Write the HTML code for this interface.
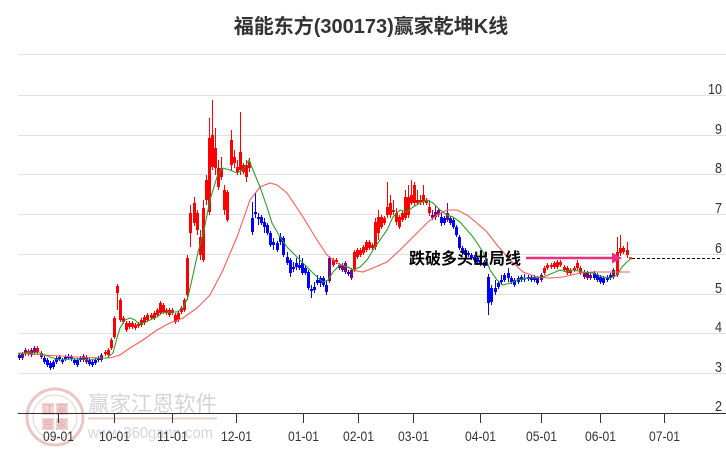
<!DOCTYPE html>
<html><head><meta charset="utf-8">
<style>
html,body{margin:0;padding:0;background:#fff;}
svg{display:block}
</style></head>
<body>
<svg width="726" height="450" viewBox="0 0 726 450" xmlns="http://www.w3.org/2000/svg">
<rect width="726" height="450" fill="#fff"/>

<!-- watermark -->
<g>
  <circle cx="55" cy="417" r="28" fill="none" stroke="#ecc6c6" stroke-width="3"/>
  <circle cx="55" cy="417" r="22" fill="none" stroke="#f0d2d2" stroke-width="1"/>
  <rect x="42" y="403" width="12" height="12" fill="#f2d4d4"/>
  <rect x="56" y="403" width="12" height="12" fill="#f2d4d4"/>
  <rect x="42" y="418" width="12" height="12" fill="#f2d4d4"/>
  <rect x="56" y="418" width="12" height="12" fill="#f2d4d4"/>
  <g font-family="'Liberation Sans','Noto Sans CJK SC',sans-serif" font-size="11" fill="#e4a8a8" text-anchor="middle">
    <text x="48" y="413">江</text><text x="62" y="413">赢</text>
    <text x="48" y="428">恩</text><text x="62" y="428">家</text>
  </g>
  <text x="88" y="411" font-family="'Liberation Sans','Noto Sans CJK SC',sans-serif" font-size="21" fill="#d4d4d4" textLength="129" lengthAdjust="spacingAndGlyphs">赢家江恩软件</text>
  <line x1="88" y1="418.5" x2="217" y2="418.5" stroke="#e6d0d0" stroke-width="2"/>
  <text x="88" y="438" font-family="'Liberation Sans',sans-serif" font-size="16" fill="#d6d6d6" textLength="125" lengthAdjust="spacingAndGlyphs">www.360gann.com</text>
</g>

<!-- title -->
<text x="371" y="33" text-anchor="middle" font-family="'Liberation Sans','Noto Sans CJK SC',sans-serif" font-weight="bold" font-size="20" fill="#333">福能东方(300173)赢家乾坤K线</text>

<!-- grid -->
<g stroke="#e2e2e2" stroke-width="1">
  <line x1="18" y1="54.5" x2="726" y2="54.5"/>
  <line x1="18" y1="95.5" x2="726" y2="95.5"/>
  <line x1="18" y1="135.5" x2="726" y2="135.5"/>
  <line x1="18" y1="174.5" x2="726" y2="174.5"/>
  <line x1="18" y1="214.5" x2="726" y2="214.5"/>
  <line x1="18" y1="254.5" x2="726" y2="254.5"/>
  <line x1="18" y1="294.5" x2="726" y2="294.5"/>
  <line x1="18" y1="333.5" x2="726" y2="333.5"/>
  <line x1="18" y1="373.5" x2="726" y2="373.5"/>
</g>

<!-- y labels -->
<g font-family="'Liberation Sans',sans-serif" font-size="15" fill="#333" text-anchor="end">
  <text x="722" y="94" textLength="14" lengthAdjust="spacingAndGlyphs">10</text>
  <text x="722" y="134" textLength="7" lengthAdjust="spacingAndGlyphs">9</text>
  <text x="722" y="173" textLength="7" lengthAdjust="spacingAndGlyphs">8</text>
  <text x="722" y="213" textLength="7" lengthAdjust="spacingAndGlyphs">7</text>
  <text x="722" y="253" textLength="7" lengthAdjust="spacingAndGlyphs">6</text>
  <text x="722" y="293" textLength="7" lengthAdjust="spacingAndGlyphs">5</text>
  <text x="722" y="332" textLength="7" lengthAdjust="spacingAndGlyphs">4</text>
  <text x="722" y="372" textLength="7" lengthAdjust="spacingAndGlyphs">3</text>
  <text x="722" y="411" textLength="7" lengthAdjust="spacingAndGlyphs">2</text>
</g>

<!-- axis -->
<line x1="18" y1="413.5" x2="726" y2="413.5" stroke="#333" stroke-width="1"/>
<g stroke="#333" stroke-width="1">
  <line x1="58.5" y1="413" x2="58.5" y2="423"/>
  <line x1="114.5" y1="413" x2="114.5" y2="423"/>
  <line x1="172.5" y1="413" x2="172.5" y2="423"/>
  <line x1="236.5" y1="413" x2="236.5" y2="423"/>
  <line x1="303.5" y1="413" x2="303.5" y2="423"/>
  <line x1="358.5" y1="413" x2="358.5" y2="423"/>
  <line x1="413.5" y1="413" x2="413.5" y2="423"/>
  <line x1="480.5" y1="413" x2="480.5" y2="423"/>
  <line x1="541.5" y1="413" x2="541.5" y2="423"/>
  <line x1="600.5" y1="413" x2="600.5" y2="423"/>
  <line x1="664.5" y1="413" x2="664.5" y2="423"/>
</g>
<g font-family="'Liberation Sans',sans-serif" font-size="14" fill="#333" text-anchor="middle">
  <text x="58.5" y="441" textLength="31" lengthAdjust="spacingAndGlyphs">09-01</text>
  <text x="114.5" y="441" textLength="31" lengthAdjust="spacingAndGlyphs">10-01</text>
  <text x="172.5" y="441" textLength="31" lengthAdjust="spacingAndGlyphs">11-01</text>
  <text x="236.5" y="441" textLength="31" lengthAdjust="spacingAndGlyphs">12-01</text>
  <text x="303.5" y="441" textLength="31" lengthAdjust="spacingAndGlyphs">01-01</text>
  <text x="358.5" y="441" textLength="31" lengthAdjust="spacingAndGlyphs">02-01</text>
  <text x="413.5" y="441" textLength="31" lengthAdjust="spacingAndGlyphs">03-01</text>
  <text x="480.5" y="441" textLength="31" lengthAdjust="spacingAndGlyphs">04-01</text>
  <text x="541.5" y="441" textLength="31" lengthAdjust="spacingAndGlyphs">05-01</text>
  <text x="600.5" y="441" textLength="31" lengthAdjust="spacingAndGlyphs">06-01</text>
  <text x="664.5" y="441" textLength="31" lengthAdjust="spacingAndGlyphs">07-01</text>
</g>

<!-- candles: red -->
<path fill="none" stroke="#ff0000" stroke-width="1" d="M28.5 349V356M37.5 346V354M105.5 350V356M108.5 348V357M111.5 338V350M114.5 316V339M117.5 284V310M120.5 298V322M123.5 316V324M126.5 321V332M129.5 321V329M132.5 321V329M135.5 323V330M138.5 322V328M141.5 318V327M144.5 315V325M147.5 313V322M151.5 313V320M154.5 311V320M157.5 308V317M160.5 301V315M163.5 303V314M166.5 308V315M169.5 308V317M172.5 308V315M175.5 313V324M178.5 311V322M181.5 306V314M184.5 298V312M187.5 255V300M190.5 205V247M194.5 197V226M197.5 210V235M200.5 230V260M203.5 200V262M206.5 175V205M209.5 118V215M212.5 100V170M215.5 128V175M218.5 160V190M221.5 157V180M224.5 185V215M227.5 190V222M231.5 130V170M234.5 150V168M237.5 160V175M240.5 112V175M243.5 163V174M246.5 160V182M249.5 158V172M333.5 258V267M336.5 258V264M354.5 250V272M357.5 248V259M360.5 248V257M363.5 245V255M366.5 240V252M369.5 240V250M372.5 243V250M375.5 218V250M378.5 210V240M381.5 215V229M384.5 216V225M387.5 182V218M390.5 195V218M393.5 200V215M396.5 208V225M399.5 215V229M402.5 211V222M405.5 190V220M408.5 185V218M411.5 180V205M414.5 182V206M417.5 190V205M420.5 195V205M423.5 185V205M426.5 198V205M429.5 200V216M544.5 266V275M547.5 263V270M551.5 263V269M554.5 261V269M557.5 260V269M560.5 260V267M564.5 265V272M567.5 266V275M570.5 268V275M574.5 266V272M577.5 260V270M580.5 266V275M617.5 237V277M620.5 235V256M623.5 246V254M627.5 242V258"/>
<path fill="#ff0000" d="M27 351h3v3h-3zM36 348h3v4h-3zM104 352h3v2h-3zM107 350h3v5h-3zM110 340h3v8h-3zM113 318h3v19h-3zM116 286h3v7h-3zM119 300h3v20h-3zM122 318h3v4h-3zM125 323h3v7h-3zM128 323h3v4h-3zM131 323h3v4h-3zM134 325h3v3h-3zM137 324h3v2h-3zM140 320h3v5h-3zM143 317h3v6h-3zM146 315h3v5h-3zM150 315h3v3h-3zM153 313h3v5h-3zM156 310h3v5h-3zM159 303h3v10h-3zM162 305h3v7h-3zM165 310h3v3h-3zM168 310h3v5h-3zM171 310h3v3h-3zM174 315h3v7h-3zM177 313h3v7h-3zM180 308h3v4h-3zM183 300h3v10h-3zM186 258h3v37h-3zM189 213h3v20h-3zM193 203h3v20h-3zM196 213h3v17h-3zM199 237h3v18h-3zM202 208h3v52h-3zM205 180h3v20h-3zM208 138h3v74h-3zM211 135h3v32h-3zM214 148h3v20h-3zM217 168h3v19h-3zM220 168h3v9h-3zM223 190h3v20h-3zM226 192h3v28h-3zM230 140h3v25h-3zM233 157h3v6h-3zM236 167h3v5h-3zM239 152h3v18h-3zM242 165h3v7h-3zM245 165h3v12h-3zM248 162h3v6h-3zM332 260h3v5h-3zM335 260h3v2h-3zM353 252h3v18h-3zM356 250h3v7h-3zM359 250h3v5h-3zM362 247h3v6h-3zM365 242h3v8h-3zM368 242h3v6h-3zM371 245h3v3h-3zM374 222h3v25h-3zM377 217h3v16h-3zM380 217h3v10h-3zM383 218h3v5h-3zM386 207h3v8h-3zM389 203h3v12h-3zM392 210h3v2h-3zM395 213h3v9h-3zM398 217h3v10h-3zM401 213h3v7h-3zM404 197h3v21h-3zM407 197h3v18h-3zM410 195h3v8h-3zM413 185h3v18h-3zM416 200h3v3h-3zM419 200h3v2h-3zM422 195h3v7h-3zM425 200h3v3h-3zM428 207h3v6h-3zM543 268h3v5h-3zM546 265h3v3h-3zM550 265h3v2h-3zM553 263h3v4h-3zM556 262h3v5h-3zM559 262h3v3h-3zM563 267h3v3h-3zM566 268h3v5h-3zM569 270h3v3h-3zM573 268h3v2h-3zM576 263h3v5h-3zM579 268h3v5h-3zM616 252h3v23h-3zM619 248h3v5h-3zM622 248h3v4h-3zM626 250h3v5h-3z"/>

<!-- candles: blue -->
<path fill="none" stroke="#0000ff" stroke-width="1" d="M19.5 353V360M44.5 356V364M47.5 358V367M50.5 361V370M53.5 360V369M56.5 356V364M59.5 355V361M62.5 358V364M65.5 355V361M68.5 354V360M71.5 355V361M74.5 358V365M77.5 358V367M80.5 356V362M89.5 358V366M92.5 360V367M95.5 358V365M98.5 356V362M252.5 202V235M255.5 193V218M258.5 213V225M261.5 215V225M264.5 218V233M267.5 223V235M270.5 231V247M273.5 238V250M277.5 241V252M280.5 233V245M283.5 236V257M287.5 252V265M290.5 258V277M293.5 262V272M296.5 258V270M299.5 255V270M302.5 258V275M305.5 266V275M308.5 270V290M311.5 285V298M314.5 282V293M317.5 275V285M320.5 276V287M323.5 276V287M326.5 280V295M348.5 270V276M441.5 212V226M444.5 216V225M450.5 216V225M453.5 218V229M456.5 225V237M459.5 235V250M462.5 246V255M465.5 248V257M468.5 251V257M471.5 253V260M474.5 255V262M477.5 256V264M480.5 258V266M484.5 260V268M488.5 274V315M491.5 285V305M495.5 280V295M498.5 281V289M501.5 275V285M504.5 273V282M508.5 268V282M511.5 276V284M514.5 278V287M518.5 276V284M521.5 275V282M524.5 274V282M528.5 275V281M531.5 275V282M534.5 275V282M537.5 276V285M594.5 271V280M597.5 273V282M600.5 275V284M603.5 276V285M607.5 275V282M610.5 273V280"/>
<path fill="#0000ff" d="M18 355h3v3h-3zM43 358h3v4h-3zM46 360h3v5h-3zM49 363h3v5h-3zM52 362h3v5h-3zM55 358h3v4h-3zM58 357h3v2h-3zM61 360h3v2h-3zM64 357h3v2h-3zM67 356h3v2h-3zM70 357h3v2h-3zM73 360h3v3h-3zM76 360h3v5h-3zM79 358h3v2h-3zM88 360h3v4h-3zM91 362h3v3h-3zM94 360h3v3h-3zM97 358h3v2h-3zM251 218h3v14h-3zM254 212h3v2h-3zM257 217h3v2h-3zM260 217h3v6h-3zM263 222h3v5h-3zM266 225h3v8h-3zM269 233h3v12h-3zM272 242h3v3h-3zM276 243h3v7h-3zM279 237h3v5h-3zM282 238h3v17h-3zM286 257h3v6h-3zM289 260h3v13h-3zM292 267h3v2h-3zM295 263h3v4h-3zM298 265h3v3h-3zM301 263h3v10h-3zM304 268h3v5h-3zM307 272h3v16h-3zM310 289h3v2h-3zM313 287h3v3h-3zM316 280h3v3h-3zM319 278h3v5h-3zM322 278h3v7h-3zM325 285h3v7h-3zM347 272h3v2h-3zM440 217h3v6h-3zM443 218h3v5h-3zM449 218h3v5h-3zM452 220h3v7h-3zM455 227h3v8h-3zM458 237h3v11h-3zM461 248h3v5h-3zM464 250h3v5h-3zM467 253h3v2h-3zM470 255h3v3h-3zM473 257h3v3h-3zM476 258h3v4h-3zM479 260h3v4h-3zM483 262h3v4h-3zM487 277h3v26h-3zM490 288h3v14h-3zM494 288h3v4h-3zM497 283h3v4h-3zM500 280h3v2h-3zM503 275h3v5h-3zM507 273h3v5h-3zM510 278h3v4h-3zM513 280h3v5h-3zM517 278h3v4h-3zM520 277h3v3h-3zM523 278h3v1.5h-3zM527 277h3v2h-3zM530 277h3v3h-3zM533 277h3v3h-3zM536 278h3v5h-3zM593 273h3v5h-3zM596 275h3v5h-3zM599 277h3v5h-3zM602 278h3v5h-3zM606 277h3v3h-3zM609 275h3v3h-3z"/>

<!-- candles: purple -->
<path fill="none" stroke="#800080" stroke-width="1" d="M22.5 352V360M25.5 348V356M31.5 348V357M34.5 346V355M41.5 351V359M83.5 354V362M86.5 355V364M101.5 353V362M329.5 256V283M339.5 263V270M342.5 263V272M345.5 261V274M351.5 268V280M432.5 210V220M435.5 205V220M438.5 208V217M447.5 203V222M541.5 273V282M584.5 270V279M587.5 271V280M590.5 273V280M613.5 268V279"/>
<path fill="#800080" d="M21 354h3v4h-3zM24 350h3v4h-3zM30 350h3v5h-3zM33 348h3v5h-3zM40 353h3v4h-3zM82 356h3v4h-3zM85 357h3v5h-3zM100 355h3v5h-3zM328 258h3v23h-3zM338 265h3v3h-3zM341 265h3v5h-3zM344 263h3v9h-3zM350 270h3v8h-3zM431 215h3v3h-3zM434 212h3v5h-3zM437 210h3v5h-3zM446 213h3v7h-3zM540 275h3v5h-3zM583 272h3v5h-3zM586 273h3v5h-3zM589 275h3v3h-3zM612 270h3v7h-3z"/>
<path fill="#e0501e" d="M629 257h3v2.5h-3z"/>

<!-- moving averages -->
<polyline fill="none" stroke="#ff5a5a" stroke-width="1.1" points="18,353 43,355 77,357 100,358 110,358 120,355 130,348 143,340 157,330 170,323 183,318 197,308 210,295 223,270 237,237 250,200 260,187 270,183 277,185 287,193 303,217 317,240 327,255 337,263 347,267 357,271 363,272 373,268 387,262 400,250 413,237 427,223 437,215 447,210 457,210 467,215 477,223 487,232 497,245 510,260 523,272 537,277 550,278 563,277 580,273 593,272 610,272 630,272"/>
<polyline fill="none" stroke="#2f9a2f" stroke-width="1.1" points="18,354 30,352 40,353 50,357 60,360 70,359 80,359 90,360 100,358 107,358 113,353 117,338 120,328 125,320 130,318 135,320 138,323 143,323 150,320 157,317 162,313 167,312 177,312 183,308 188,297 193,275 198,252 203,235 210,200 217,177 222,168 230,170 237,173 243,170 249,160 253,170 260,187 267,207 272,223 280,237 287,247 297,257 307,267 317,277 323,282 328,280 333,272 340,265 348,267 353,270 360,267 367,260 373,250 380,240 387,230 393,217 400,210 407,212 413,207 420,203 427,200 433,203 440,210 447,215 453,217 460,222 467,230 473,237 483,252 490,270 497,280 503,285 510,283 517,280 527,278 537,278 543,277 553,273 560,270 567,272 573,270 583,272 593,273 603,277 610,278 617,275 622,267 627,262 630,259"/>

<!-- arrow -->
<line x1="526" y1="258" x2="614" y2="258" stroke="#e8307f" stroke-width="2.5"/>
<polygon points="612,252.5 622,258 612,263.5" fill="#e8307f"/>
<line x1="632" y1="258.5" x2="720" y2="258.5" stroke="#000" stroke-width="1" stroke-dasharray="3,2"/>

<text x="409" y="264" font-family="'Liberation Sans','Noto Sans CJK SC',sans-serif" font-weight="bold" font-size="16" fill="#000">跌破多头出局线</text>
</svg>
</body></html>
